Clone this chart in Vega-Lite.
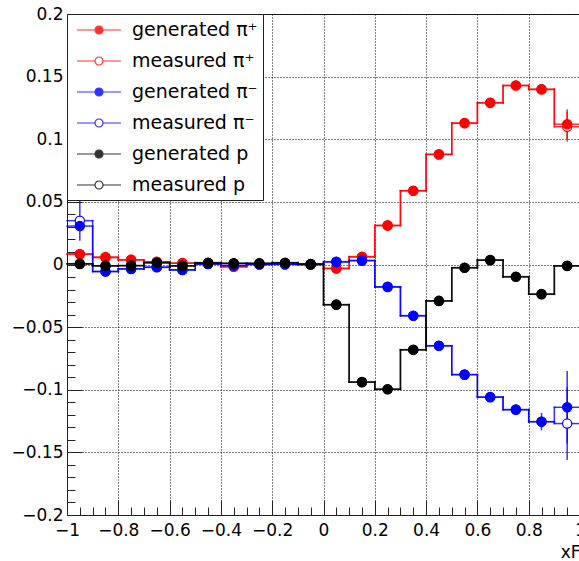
{
  "$schema": "https://vega.github.io/schema/vega-lite/v6.json",
  "width": 513,
  "height": 501,
  "autosize": {"type": "none"},
  "padding": {"left": 67, "top": 14, "right": 0, "bottom": 46},
  "background": "white",
  "config": {
    "font": "DejaVu Sans",
    "view": {"stroke": "#222", "strokeWidth": 1},
    "legend": {
      "title": null, "orient": "none", "legendX": 0, "legendY": 0, "padding": 5,
      "strokeColor": "#222", "fillColor": "#ffffff",
      "symbolType": "M-2.2,0L-0.4,0M0.4,0L2.2,0M0.4,0A0.4,0.4,0,1,1,-0.4,0A0.4,0.4,0,1,1,0.4,0Z",
      "symbolSize": 400, "symbolStrokeWidth": 1.2, "symbolOffset": 16,
      "labelOffset": 22, "labelFontSize": 19, "labelFont": "DejaVu Sans", "labelColor": "#000", "labelLimit": 500,
      "rowPadding": 10
    }
  },
  "data": {
    "values": [
      {"series": "measured π⁺", "x": -0.95, "y": 0.0085, "err": 0.003},
      {"series": "measured π⁺", "x": -0.85, "y": 0.006, "err": 0.002},
      {"series": "measured π⁺", "x": -0.75, "y": 0.0038, "err": 0.0015},
      {"series": "measured π⁺", "x": -0.65, "y": 0.0022, "err": 0.001},
      {"series": "measured π⁺", "x": -0.55, "y": 0.0012, "err": 0.001},
      {"series": "measured π⁺", "x": -0.45, "y": 0.0006, "err": 0.001},
      {"series": "measured π⁺", "x": -0.35, "y": -0.0019, "err": 0.001},
      {"series": "measured π⁺", "x": -0.25, "y": 0.0002, "err": 0.001},
      {"series": "measured π⁺", "x": -0.15, "y": 0.0002, "err": 0.001},
      {"series": "measured π⁺", "x": -0.05, "y": 0.0001, "err": 0.001},
      {"series": "measured π⁺", "x": 0.05, "y": -0.0033, "err": 0.001},
      {"series": "measured π⁺", "x": 0.15, "y": 0.0063, "err": 0.001},
      {"series": "measured π⁺", "x": 0.25, "y": 0.0313, "err": 0.001},
      {"series": "measured π⁺", "x": 0.35, "y": 0.0588, "err": 0.001},
      {"series": "measured π⁺", "x": 0.45, "y": 0.0878, "err": 0.0015},
      {"series": "measured π⁺", "x": 0.55, "y": 0.1127, "err": 0.0015},
      {"series": "measured π⁺", "x": 0.65, "y": 0.1292, "err": 0.002},
      {"series": "measured π⁺", "x": 0.75, "y": 0.1428, "err": 0.002},
      {"series": "measured π⁺", "x": 0.85, "y": 0.1397, "err": 0.003},
      {"series": "measured π⁺", "x": 0.95, "y": 0.110, "err": 0.012},
      {"series": "generated π⁺", "x": -0.95, "y": 0.0081, "err": 0.002},
      {"series": "generated π⁺", "x": -0.85, "y": 0.0055, "err": 0.001},
      {"series": "generated π⁺", "x": -0.75, "y": 0.0036, "err": 0.001},
      {"series": "generated π⁺", "x": -0.65, "y": 0.002, "err": 0.001},
      {"series": "generated π⁺", "x": -0.55, "y": 0.001, "err": 0.001},
      {"series": "generated π⁺", "x": -0.45, "y": 0.0008, "err": 0.001},
      {"series": "generated π⁺", "x": -0.35, "y": -0.0017, "err": 0.001},
      {"series": "generated π⁺", "x": -0.25, "y": 0.0003, "err": 0.001},
      {"series": "generated π⁺", "x": -0.15, "y": 0.0003, "err": 0.001},
      {"series": "generated π⁺", "x": -0.05, "y": 0.0, "err": 0.001},
      {"series": "generated π⁺", "x": 0.05, "y": -0.003, "err": 0.001},
      {"series": "generated π⁺", "x": 0.15, "y": 0.006, "err": 0.001},
      {"series": "generated π⁺", "x": 0.25, "y": 0.031, "err": 0.001},
      {"series": "generated π⁺", "x": 0.35, "y": 0.059, "err": 0.001},
      {"series": "generated π⁺", "x": 0.45, "y": 0.088, "err": 0.001},
      {"series": "generated π⁺", "x": 0.55, "y": 0.113, "err": 0.001},
      {"series": "generated π⁺", "x": 0.65, "y": 0.129, "err": 0.0015},
      {"series": "generated π⁺", "x": 0.75, "y": 0.143, "err": 0.002},
      {"series": "generated π⁺", "x": 0.85, "y": 0.140, "err": 0.003},
      {"series": "generated π⁺", "x": 0.95, "y": 0.112, "err": 0.012},
      {"series": "measured π⁻", "x": -0.95, "y": 0.035, "err": 0.016},
      {"series": "measured π⁻", "x": -0.85, "y": -0.0055, "err": 0.004},
      {"series": "measured π⁻", "x": -0.75, "y": -0.0034, "err": 0.002},
      {"series": "measured π⁻", "x": -0.65, "y": -0.0021, "err": 0.0015},
      {"series": "measured π⁻", "x": -0.55, "y": -0.0042, "err": 0.0015},
      {"series": "measured π⁻", "x": -0.45, "y": 0.0003, "err": 0.001},
      {"series": "measured π⁻", "x": -0.35, "y": -0.0009, "err": 0.001},
      {"series": "measured π⁻", "x": -0.25, "y": 0.0001, "err": 0.001},
      {"series": "measured π⁻", "x": -0.15, "y": 0.0001, "err": 0.001},
      {"series": "measured π⁻", "x": -0.05, "y": 0.0, "err": 0.001},
      {"series": "measured π⁻", "x": 0.05, "y": 0.0023, "err": 0.001},
      {"series": "measured π⁻", "x": 0.15, "y": 0.0033, "err": 0.001},
      {"series": "measured π⁻", "x": 0.25, "y": -0.0178, "err": 0.0015},
      {"series": "measured π⁻", "x": 0.35, "y": -0.0408, "err": 0.0015},
      {"series": "measured π⁻", "x": 0.45, "y": -0.0648, "err": 0.002},
      {"series": "measured π⁻", "x": 0.55, "y": -0.0878, "err": 0.002},
      {"series": "measured π⁻", "x": 0.65, "y": -0.1058, "err": 0.003},
      {"series": "measured π⁻", "x": 0.75, "y": -0.1158, "err": 0.004},
      {"series": "measured π⁻", "x": 0.85, "y": -0.1255, "err": 0.007},
      {"series": "measured π⁻", "x": 0.95, "y": -0.127, "err": 0.029},
      {"series": "generated π⁻", "x": -0.95, "y": 0.0307, "err": 0.004},
      {"series": "generated π⁻", "x": -0.85, "y": -0.0057, "err": 0.003},
      {"series": "generated π⁻", "x": -0.75, "y": -0.0036, "err": 0.001},
      {"series": "generated π⁻", "x": -0.65, "y": -0.0023, "err": 0.001},
      {"series": "generated π⁻", "x": -0.55, "y": -0.0044, "err": 0.001},
      {"series": "generated π⁻", "x": -0.45, "y": 0.0005, "err": 0.001},
      {"series": "generated π⁻", "x": -0.35, "y": -0.0007, "err": 0.001},
      {"series": "generated π⁻", "x": -0.25, "y": 0.0, "err": 0.001},
      {"series": "generated π⁻", "x": -0.15, "y": 0.0002, "err": 0.001},
      {"series": "generated π⁻", "x": -0.05, "y": 0.0, "err": 0.001},
      {"series": "generated π⁻", "x": 0.05, "y": 0.002, "err": 0.001},
      {"series": "generated π⁻", "x": 0.15, "y": 0.003, "err": 0.001},
      {"series": "generated π⁻", "x": 0.25, "y": -0.018, "err": 0.001},
      {"series": "generated π⁻", "x": 0.35, "y": -0.041, "err": 0.001},
      {"series": "generated π⁻", "x": 0.45, "y": -0.065, "err": 0.001},
      {"series": "generated π⁻", "x": 0.55, "y": -0.088, "err": 0.0015},
      {"series": "generated π⁻", "x": 0.65, "y": -0.106, "err": 0.002},
      {"series": "generated π⁻", "x": 0.75, "y": -0.116, "err": 0.003},
      {"series": "generated π⁻", "x": 0.85, "y": -0.1255, "err": 0.004},
      {"series": "generated π⁻", "x": 0.95, "y": -0.114, "err": 0.029},
      {"series": "measured p", "x": -0.95, "y": 0.0006, "err": 0.002},
      {"series": "measured p", "x": -0.85, "y": -0.001, "err": 0.001},
      {"series": "measured p", "x": -0.75, "y": -0.0008, "err": 0.001},
      {"series": "measured p", "x": -0.65, "y": 0.0013, "err": 0.001},
      {"series": "measured p", "x": -0.55, "y": -0.001, "err": 0.001},
      {"series": "measured p", "x": -0.45, "y": 0.0013, "err": 0.001},
      {"series": "measured p", "x": -0.35, "y": 0.0009, "err": 0.001},
      {"series": "measured p", "x": -0.25, "y": 0.0009, "err": 0.001},
      {"series": "measured p", "x": -0.15, "y": 0.0013, "err": 0.001},
      {"series": "measured p", "x": -0.05, "y": 0.0003, "err": 0.001},
      {"series": "measured p", "x": 0.05, "y": -0.0322, "err": 0.001},
      {"series": "measured p", "x": 0.15, "y": -0.0938, "err": 0.001},
      {"series": "measured p", "x": 0.25, "y": -0.0995, "err": 0.001},
      {"series": "measured p", "x": 0.35, "y": -0.0682, "err": 0.001},
      {"series": "measured p", "x": 0.45, "y": -0.0292, "err": 0.001},
      {"series": "measured p", "x": 0.55, "y": -0.0027, "err": 0.001},
      {"series": "measured p", "x": 0.65, "y": 0.0034, "err": 0.001},
      {"series": "measured p", "x": 0.75, "y": -0.0099, "err": 0.001},
      {"series": "measured p", "x": 0.85, "y": -0.0238, "err": 0.001},
      {"series": "measured p", "x": 0.95, "y": -0.0012, "err": 0.002},
      {"series": "generated p", "x": -0.95, "y": 0.0004, "err": 0.001},
      {"series": "generated p", "x": -0.85, "y": -0.0012, "err": 0.001},
      {"series": "generated p", "x": -0.75, "y": -0.001, "err": 0.001},
      {"series": "generated p", "x": -0.65, "y": 0.0015, "err": 0.001},
      {"series": "generated p", "x": -0.55, "y": -0.0012, "err": 0.001},
      {"series": "generated p", "x": -0.45, "y": 0.0015, "err": 0.001},
      {"series": "generated p", "x": -0.35, "y": 0.001, "err": 0.001},
      {"series": "generated p", "x": -0.25, "y": 0.001, "err": 0.001},
      {"series": "generated p", "x": -0.15, "y": 0.0015, "err": 0.001},
      {"series": "generated p", "x": -0.05, "y": 0.0004, "err": 0.001},
      {"series": "generated p", "x": 0.05, "y": -0.032, "err": 0.001},
      {"series": "generated p", "x": 0.15, "y": -0.094, "err": 0.001},
      {"series": "generated p", "x": 0.25, "y": -0.0997, "err": 0.001},
      {"series": "generated p", "x": 0.35, "y": -0.068, "err": 0.001},
      {"series": "generated p", "x": 0.45, "y": -0.029, "err": 0.001},
      {"series": "generated p", "x": 0.55, "y": -0.0025, "err": 0.001},
      {"series": "generated p", "x": 0.65, "y": 0.0036, "err": 0.001},
      {"series": "generated p", "x": 0.75, "y": -0.0097, "err": 0.001},
      {"series": "generated p", "x": 0.85, "y": -0.0236, "err": 0.001},
      {"series": "generated p", "x": 0.95, "y": -0.001, "err": 0.001}
    ]
  },
  "layer": [
    {
      "transform": [
        {"bin": {"extent": [-1, 1], "step": 0.1}, "field": "x", "as": ["x0", "x1"]}
      ],
      "mark": {"type": "rule", "strokeWidth": 1.5, "opacity": 0.8, "strokeCap": "square"},
      "encoding": {
        "x": {
          "field": "x0", "type": "quantitative", "title": "xF",
          "scale": {"domain": [-1, 1], "nice": false, "zero": false},
          "axis": {
            "values": [-1,-0.95,-0.9,-0.85,-0.8,-0.75,-0.7,-0.65,-0.6,-0.55,-0.5,-0.45,-0.4,-0.35,-0.3,-0.25,-0.2,-0.15,-0.1,-0.05,0,0.05,0.1,0.15,0.2,0.25,0.3,0.35,0.4,0.45,0.5,0.55,0.6,0.65,0.7,0.75,0.8,0.85,0.9,0.95,1],
            "format": ".1~f",
            "labelExpr": "abs(datum.value*5-round(datum.value*5))<1e-6 ? datum.label : ''",
            "tickSize": {"condition": {"test": "abs(datum.value*5-round(datum.value*5))<1e-6", "value": -15}, "value": -8},
            "gridOpacity": {"condition": {"test": "abs(datum.value*5-round(datum.value*5))<1e-6", "value": 1}, "value": 0},
            "grid": true, "gridColor": "#000", "gridDash": [1, 2], "gridWidth": 1,
            "tickColor": "#222", "tickWidth": 1, "domainColor": "#222",
            "labelFontSize": 17, "labelFont": "DejaVu Sans", "labelColor": "#000", "labelPadding": 22,
            "labelFlush": false, "labelOverlap": false, "labelBound": false,
            "titleAnchor": "end", "titleAlign": "right", "titleX": 513, "titleY": 42, "titleBaseline": "alphabetic",
            "titleFontSize": 17, "titleFontWeight": "normal", "titleFont": "DejaVu Sans", "titleColor": "#000"
          }
        },
        "x2": {"field": "x1"},
        "y": {
          "field": "y", "type": "quantitative", "title": null,
          "scale": {"domain": [-0.2, 0.2], "nice": false, "zero": false},
          "axis": {
            "values": [-0.2,-0.19,-0.18,-0.17,-0.16,-0.15,-0.14,-0.13,-0.12,-0.11,-0.1,-0.09,-0.08,-0.07,-0.06,-0.05,-0.04,-0.03,-0.02,-0.01,0,0.01,0.02,0.03,0.04,0.05,0.06,0.07,0.08,0.09,0.1,0.11,0.12,0.13,0.14,0.15,0.16,0.17,0.18,0.19,0.2],
            "format": ".2~f",
            "labelExpr": "abs(datum.value*20-round(datum.value*20))<1e-6 ? datum.label : ''",
            "tickSize": {"condition": {"test": "abs(datum.value*20-round(datum.value*20))<1e-6", "value": -15}, "value": -8},
            "gridOpacity": {"condition": {"test": "abs(datum.value*20-round(datum.value*20))<1e-6", "value": 1}, "value": 0},
            "grid": true, "gridColor": "#000", "gridDash": [1, 2], "gridWidth": 1,
            "tickColor": "#222", "tickWidth": 1, "domainColor": "#222",
            "labelFontSize": 17, "labelFont": "DejaVu Sans", "labelColor": "#000", "labelPadding": 19,
            "labelFlush": false, "labelOverlap": false, "labelBound": false
          }
        },
        "stroke": {
          "field": "series", "type": "nominal",
          "scale": {
            "domain": ["generated π⁺", "measured π⁺", "generated π⁻", "measured π⁻", "generated p", "measured p"],
            "range": ["#ff0000", "#ff0000", "#0000ff", "#0000ff", "#000000", "#000000"]
          },
          "legend": {
            "labelExpr": "datum.label + '\u00a0\u00a0\u00a0\u00a0\u00a0\u00a0\u00a0\u00a0\u00a0\u00a0\u00a0'",
            "encode": {
              "symbols": {
                "update": {
                  "shape": {"value": "M-2.2,0L-0.4,0M0.4,0L2.2,0M0.4,0A0.4,0.4,0,1,1,-0.4,0A0.4,0.4,0,1,1,0.4,0Z"},
                  "strokeWidth": {"value": 1.2},
                  "opacity": {"value": 1},
                  "fill": {"signal": "indexof(datum.value, 'measured') >= 0 ? '#ffffff' : (indexof(datum.value, '⁺') >= 0 ? '#ff0000' : (indexof(datum.value, '⁻') >= 0 ? '#0000ff' : '#000000'))"},
                  "stroke": {"signal": "datum.value === 'measured p' ? '#4040c8' : (indexof(datum.value, '⁺') >= 0 ? '#ff0000' : (indexof(datum.value, '⁻') >= 0 ? '#0000ff' : '#000000'))"}
                }
              }
            }
          }
        }
      }
    },
    {
      "transform": [
        {"bin": {"extent": [-1, 1], "step": 0.1}, "field": "x", "as": ["x0", "x1"]},
        {"window": [{"op": "lag", "field": "y", "as": "yprev"}], "groupby": ["series"], "sort": [{"field": "x", "order": "ascending"}]},
        {"filter": "datum.yprev != null"}
      ],
      "mark": {"type": "rule", "strokeWidth": 1.5, "opacity": 0.8, "strokeCap": "square"},
      "encoding": {
        "x": {
          "field": "x0", "type": "quantitative", "title": "xF",
          "scale": {"domain": [-1, 1], "nice": false, "zero": false},
          "axis": {
            "values": [-1,-0.95,-0.9,-0.85,-0.8,-0.75,-0.7,-0.65,-0.6,-0.55,-0.5,-0.45,-0.4,-0.35,-0.3,-0.25,-0.2,-0.15,-0.1,-0.05,0,0.05,0.1,0.15,0.2,0.25,0.3,0.35,0.4,0.45,0.5,0.55,0.6,0.65,0.7,0.75,0.8,0.85,0.9,0.95,1],
            "format": ".1~f",
            "labelExpr": "abs(datum.value*5-round(datum.value*5))<1e-6 ? datum.label : ''",
            "tickSize": {"condition": {"test": "abs(datum.value*5-round(datum.value*5))<1e-6", "value": -15}, "value": -8},
            "gridOpacity": {"condition": {"test": "abs(datum.value*5-round(datum.value*5))<1e-6", "value": 1}, "value": 0},
            "grid": true, "gridColor": "#000", "gridDash": [1, 2], "gridWidth": 1,
            "tickColor": "#222", "tickWidth": 1, "domainColor": "#222",
            "labelFontSize": 17, "labelFont": "DejaVu Sans", "labelColor": "#000", "labelPadding": 22,
            "labelFlush": false, "labelOverlap": false, "labelBound": false,
            "titleAnchor": "end", "titleAlign": "right", "titleX": 513, "titleY": 42, "titleBaseline": "alphabetic",
            "titleFontSize": 17, "titleFontWeight": "normal", "titleFont": "DejaVu Sans", "titleColor": "#000"
          }
        },
        "y": {
          "field": "yprev", "type": "quantitative", "title": null,
          "scale": {"domain": [-0.2, 0.2], "nice": false, "zero": false},
          "axis": {
            "values": [-0.2,-0.19,-0.18,-0.17,-0.16,-0.15,-0.14,-0.13,-0.12,-0.11,-0.1,-0.09,-0.08,-0.07,-0.06,-0.05,-0.04,-0.03,-0.02,-0.01,0,0.01,0.02,0.03,0.04,0.05,0.06,0.07,0.08,0.09,0.1,0.11,0.12,0.13,0.14,0.15,0.16,0.17,0.18,0.19,0.2],
            "format": ".2~f",
            "labelExpr": "abs(datum.value*20-round(datum.value*20))<1e-6 ? datum.label : ''",
            "tickSize": {"condition": {"test": "abs(datum.value*20-round(datum.value*20))<1e-6", "value": -15}, "value": -8},
            "gridOpacity": {"condition": {"test": "abs(datum.value*20-round(datum.value*20))<1e-6", "value": 1}, "value": 0},
            "grid": true, "gridColor": "#000", "gridDash": [1, 2], "gridWidth": 1,
            "tickColor": "#222", "tickWidth": 1, "domainColor": "#222",
            "labelFontSize": 17, "labelFont": "DejaVu Sans", "labelColor": "#000", "labelPadding": 19,
            "labelFlush": false, "labelOverlap": false, "labelBound": false
          }
        },
        "y2": {"field": "y"},
        "stroke": {
          "field": "series", "type": "nominal",
          "legend": {
            "labelExpr": "datum.label + '\u00a0\u00a0\u00a0\u00a0\u00a0\u00a0\u00a0\u00a0\u00a0\u00a0\u00a0'",
            "encode": {
              "symbols": {
                "update": {
                  "shape": {"value": "M-2.2,0L-0.4,0M0.4,0L2.2,0M0.4,0A0.4,0.4,0,1,1,-0.4,0A0.4,0.4,0,1,1,0.4,0Z"},
                  "strokeWidth": {"value": 1.2},
                  "opacity": {"value": 1},
                  "fill": {"signal": "indexof(datum.value, 'measured') >= 0 ? '#ffffff' : (indexof(datum.value, '⁺') >= 0 ? '#ff0000' : (indexof(datum.value, '⁻') >= 0 ? '#0000ff' : '#000000'))"},
                  "stroke": {"signal": "datum.value === 'measured p' ? '#4040c8' : (indexof(datum.value, '⁺') >= 0 ? '#ff0000' : (indexof(datum.value, '⁻') >= 0 ? '#0000ff' : '#000000'))"}
                }
              }
            }
          }
        }
      }
    },
    {
      "mark": {"type": "errorbar", "thickness": 1.5, "opacity": 0.8},
      "encoding": {
        "x": {
          "field": "x", "type": "quantitative", "title": "xF",
          "scale": {"domain": [-1, 1], "nice": false, "zero": false},
          "axis": {
            "values": [-1,-0.95,-0.9,-0.85,-0.8,-0.75,-0.7,-0.65,-0.6,-0.55,-0.5,-0.45,-0.4,-0.35,-0.3,-0.25,-0.2,-0.15,-0.1,-0.05,0,0.05,0.1,0.15,0.2,0.25,0.3,0.35,0.4,0.45,0.5,0.55,0.6,0.65,0.7,0.75,0.8,0.85,0.9,0.95,1],
            "format": ".1~f",
            "labelExpr": "abs(datum.value*5-round(datum.value*5))<1e-6 ? datum.label : ''",
            "tickSize": {"condition": {"test": "abs(datum.value*5-round(datum.value*5))<1e-6", "value": -15}, "value": -8},
            "gridOpacity": {"condition": {"test": "abs(datum.value*5-round(datum.value*5))<1e-6", "value": 1}, "value": 0},
            "grid": true, "gridColor": "#000", "gridDash": [1, 2], "gridWidth": 1,
            "tickColor": "#222", "tickWidth": 1, "domainColor": "#222",
            "labelFontSize": 17, "labelFont": "DejaVu Sans", "labelColor": "#000", "labelPadding": 22,
            "labelFlush": false, "labelOverlap": false, "labelBound": false,
            "titleAnchor": "end", "titleAlign": "right", "titleX": 513, "titleY": 42, "titleBaseline": "alphabetic",
            "titleFontSize": 17, "titleFontWeight": "normal", "titleFont": "DejaVu Sans", "titleColor": "#000"
          }
        },
        "y": {
          "field": "y", "type": "quantitative", "title": null,
          "scale": {"domain": [-0.2, 0.2], "nice": false, "zero": false},
          "axis": {
            "values": [-0.2,-0.19,-0.18,-0.17,-0.16,-0.15,-0.14,-0.13,-0.12,-0.11,-0.1,-0.09,-0.08,-0.07,-0.06,-0.05,-0.04,-0.03,-0.02,-0.01,0,0.01,0.02,0.03,0.04,0.05,0.06,0.07,0.08,0.09,0.1,0.11,0.12,0.13,0.14,0.15,0.16,0.17,0.18,0.19,0.2],
            "format": ".2~f",
            "labelExpr": "abs(datum.value*20-round(datum.value*20))<1e-6 ? datum.label : ''",
            "tickSize": {"condition": {"test": "abs(datum.value*20-round(datum.value*20))<1e-6", "value": -15}, "value": -8},
            "gridOpacity": {"condition": {"test": "abs(datum.value*20-round(datum.value*20))<1e-6", "value": 1}, "value": 0},
            "grid": true, "gridColor": "#000", "gridDash": [1, 2], "gridWidth": 1,
            "tickColor": "#222", "tickWidth": 1, "domainColor": "#222",
            "labelFontSize": 17, "labelFont": "DejaVu Sans", "labelColor": "#000", "labelPadding": 19,
            "labelFlush": false, "labelOverlap": false, "labelBound": false
          }
        },
        "yError": {"field": "err"},
        "color": {
          "field": "series", "type": "nominal",
          "scale": {
            "domain": ["generated π⁺", "measured π⁺", "generated π⁻", "measured π⁻", "generated p", "measured p"],
            "range": ["#ff0000", "#ff0000", "#0000ff", "#0000ff", "#000000", "#000000"]
          },
          "legend": {
            "labelExpr": "datum.label + '\u00a0\u00a0\u00a0\u00a0\u00a0\u00a0\u00a0\u00a0\u00a0\u00a0\u00a0'",
            "encode": {
              "symbols": {
                "update": {
                  "shape": {"value": "M-2.2,0L-0.4,0M0.4,0L2.2,0M0.4,0A0.4,0.4,0,1,1,-0.4,0A0.4,0.4,0,1,1,0.4,0Z"},
                  "strokeWidth": {"value": 1.2},
                  "opacity": {"value": 1},
                  "fill": {"signal": "indexof(datum.value, 'measured') >= 0 ? '#ffffff' : (indexof(datum.value, '⁺') >= 0 ? '#ff0000' : (indexof(datum.value, '⁻') >= 0 ? '#0000ff' : '#000000'))"},
                  "stroke": {"signal": "datum.value === 'measured p' ? '#4040c8' : (indexof(datum.value, '⁺') >= 0 ? '#ff0000' : (indexof(datum.value, '⁻') >= 0 ? '#0000ff' : '#000000'))"}
                }
              }
            }
          }
        }
      }
    },
    {
      "mark": {"type": "point", "shape": "circle", "filled": true, "size": 85, "opacity": 1, "strokeWidth": 1.2},
      "encoding": {
        "x": {
          "field": "x", "type": "quantitative", "title": "xF",
          "scale": {"domain": [-1, 1], "nice": false, "zero": false},
          "axis": {
            "values": [-1,-0.95,-0.9,-0.85,-0.8,-0.75,-0.7,-0.65,-0.6,-0.55,-0.5,-0.45,-0.4,-0.35,-0.3,-0.25,-0.2,-0.15,-0.1,-0.05,0,0.05,0.1,0.15,0.2,0.25,0.3,0.35,0.4,0.45,0.5,0.55,0.6,0.65,0.7,0.75,0.8,0.85,0.9,0.95,1],
            "format": ".1~f",
            "labelExpr": "abs(datum.value*5-round(datum.value*5))<1e-6 ? datum.label : ''",
            "tickSize": {"condition": {"test": "abs(datum.value*5-round(datum.value*5))<1e-6", "value": -15}, "value": -8},
            "gridOpacity": {"condition": {"test": "abs(datum.value*5-round(datum.value*5))<1e-6", "value": 1}, "value": 0},
            "grid": true, "gridColor": "#000", "gridDash": [1, 2], "gridWidth": 1,
            "tickColor": "#222", "tickWidth": 1, "domainColor": "#222",
            "labelFontSize": 17, "labelFont": "DejaVu Sans", "labelColor": "#000", "labelPadding": 22,
            "labelFlush": false, "labelOverlap": false, "labelBound": false,
            "titleAnchor": "end", "titleAlign": "right", "titleX": 513, "titleY": 42, "titleBaseline": "alphabetic",
            "titleFontSize": 17, "titleFontWeight": "normal", "titleFont": "DejaVu Sans", "titleColor": "#000"
          }
        },
        "y": {
          "field": "y", "type": "quantitative", "title": null,
          "scale": {"domain": [-0.2, 0.2], "nice": false, "zero": false},
          "axis": {
            "values": [-0.2,-0.19,-0.18,-0.17,-0.16,-0.15,-0.14,-0.13,-0.12,-0.11,-0.1,-0.09,-0.08,-0.07,-0.06,-0.05,-0.04,-0.03,-0.02,-0.01,0,0.01,0.02,0.03,0.04,0.05,0.06,0.07,0.08,0.09,0.1,0.11,0.12,0.13,0.14,0.15,0.16,0.17,0.18,0.19,0.2],
            "format": ".2~f",
            "labelExpr": "abs(datum.value*20-round(datum.value*20))<1e-6 ? datum.label : ''",
            "tickSize": {"condition": {"test": "abs(datum.value*20-round(datum.value*20))<1e-6", "value": -15}, "value": -8},
            "gridOpacity": {"condition": {"test": "abs(datum.value*20-round(datum.value*20))<1e-6", "value": 1}, "value": 0},
            "grid": true, "gridColor": "#000", "gridDash": [1, 2], "gridWidth": 1,
            "tickColor": "#222", "tickWidth": 1, "domainColor": "#222",
            "labelFontSize": 17, "labelFont": "DejaVu Sans", "labelColor": "#000", "labelPadding": 19,
            "labelFlush": false, "labelOverlap": false, "labelBound": false
          }
        },
        "fill": {
          "field": "series", "type": "nominal",
          "scale": {
            "domain": ["generated π⁺", "measured π⁺", "generated π⁻", "measured π⁻", "generated p", "measured p"],
            "range": ["#ff0000", "#ffffff", "#0000ff", "#ffffff", "#000000", "#ffffff"]
          },
          "legend": {
            "labelExpr": "datum.label + '\u00a0\u00a0\u00a0\u00a0\u00a0\u00a0\u00a0\u00a0\u00a0\u00a0\u00a0'",
            "encode": {
              "symbols": {
                "update": {
                  "shape": {"value": "M-2.2,0L-0.4,0M0.4,0L2.2,0M0.4,0A0.4,0.4,0,1,1,-0.4,0A0.4,0.4,0,1,1,0.4,0Z"},
                  "strokeWidth": {"value": 1.2},
                  "opacity": {"value": 1},
                  "fill": {"signal": "indexof(datum.value, 'measured') >= 0 ? '#ffffff' : (indexof(datum.value, '⁺') >= 0 ? '#ff0000' : (indexof(datum.value, '⁻') >= 0 ? '#0000ff' : '#000000'))"},
                  "stroke": {"signal": "datum.value === 'measured p' ? '#4040c8' : (indexof(datum.value, '⁺') >= 0 ? '#ff0000' : (indexof(datum.value, '⁻') >= 0 ? '#0000ff' : '#000000'))"}
                }
              }
            }
          }
        },
        "stroke": {
          "field": "series", "type": "nominal",
          "legend": {
            "labelExpr": "datum.label + '\u00a0\u00a0\u00a0\u00a0\u00a0\u00a0\u00a0\u00a0\u00a0\u00a0\u00a0'",
            "encode": {
              "symbols": {
                "update": {
                  "shape": {"value": "M-2.2,0L-0.4,0M0.4,0L2.2,0M0.4,0A0.4,0.4,0,1,1,-0.4,0A0.4,0.4,0,1,1,0.4,0Z"},
                  "strokeWidth": {"value": 1.2},
                  "opacity": {"value": 1},
                  "fill": {"signal": "indexof(datum.value, 'measured') >= 0 ? '#ffffff' : (indexof(datum.value, '⁺') >= 0 ? '#ff0000' : (indexof(datum.value, '⁻') >= 0 ? '#0000ff' : '#000000'))"},
                  "stroke": {"signal": "datum.value === 'measured p' ? '#4040c8' : (indexof(datum.value, '⁺') >= 0 ? '#ff0000' : (indexof(datum.value, '⁻') >= 0 ? '#0000ff' : '#000000'))"}
                }
              }
            }
          }
        }
      }
    }
  ]
}
